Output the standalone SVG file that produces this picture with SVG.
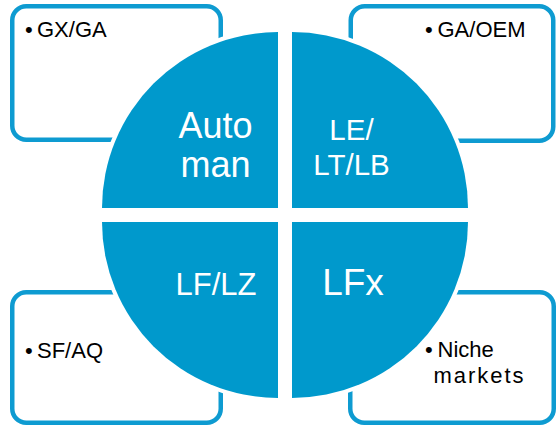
<svg xmlns="http://www.w3.org/2000/svg" width="557" height="433" viewBox="0 0 557 433">
<style>
.box{fill:#fff;stroke:#0E9BD1;stroke-width:4.5}
.q{fill:#0099CC;stroke:#fff;stroke-width:8;paint-order:stroke;stroke-linejoin:miter}
.bt{font-family:"Liberation Sans",Arial,sans-serif;font-size:22px;fill:#000}
.qt{font-family:"Liberation Sans",Arial,sans-serif;fill:#fff;text-anchor:middle}
</style>
<rect width="557" height="433" fill="#fff"/>
<g id="box-tl"><rect class="box" x="12.25" y="6.25" width="208.5" height="133.5" rx="14"/>
<text class="bt" y="37"><tspan x="25">•</tspan><tspan x="37">GX/GA</tspan></text></g>
<g id="box-tr"><rect class="box" x="350.75" y="6.25" width="202.5" height="134.5" rx="14"/>
<text class="bt" y="37"><tspan x="425">•</tspan><tspan x="437.5">GA/OEM</tspan></text></g>
<g id="box-bl"><rect class="box" x="12.25" y="292.25" width="208.5" height="130.5" rx="14"/>
<text class="bt" y="358"><tspan x="25">•</tspan><tspan x="37">SF/AQ</tspan></text></g>
<g id="box-br"><rect class="box" x="350.25" y="292.25" width="203.5" height="130.5" rx="14"/>
<text class="bt" y="357"><tspan x="425">•</tspan><tspan x="437.5">Niche</tspan></text>
<text class="bt" y="383" x="433.5" textLength="90" lengthAdjust="spacing">markets</text></g>
<g id="q-tl"><path class="q" d="M278,208 L278,32 A176,176 0 0 0 102,208 Z"/>
<text class="qt" font-size="36"><tspan x="215.5" y="138">Auto</tspan><tspan x="215.5" y="177">man</tspan></text></g>
<g id="q-tr"><path class="q" d="M292,208 L292,32 A176,176 0 0 1 468,208 Z"/>
<text class="qt" font-size="29.5"><tspan x="351.5" y="140">LE/</tspan><tspan x="351.5" y="175">LT/LB</tspan></text></g>
<g id="q-bl"><path class="q" d="M278,222 L278,398 A176,176 0 0 1 102,222 Z"/>
<text class="qt" font-size="31" x="216" y="295">LF/LZ</text></g>
<g id="q-br"><path class="q" d="M292,222 L292,398 A176,176 0 0 0 468,222 Z"/>
<text class="qt" font-size="37" x="353" y="295">LFx</text></g>
<g id="connectors"/>
</svg>
